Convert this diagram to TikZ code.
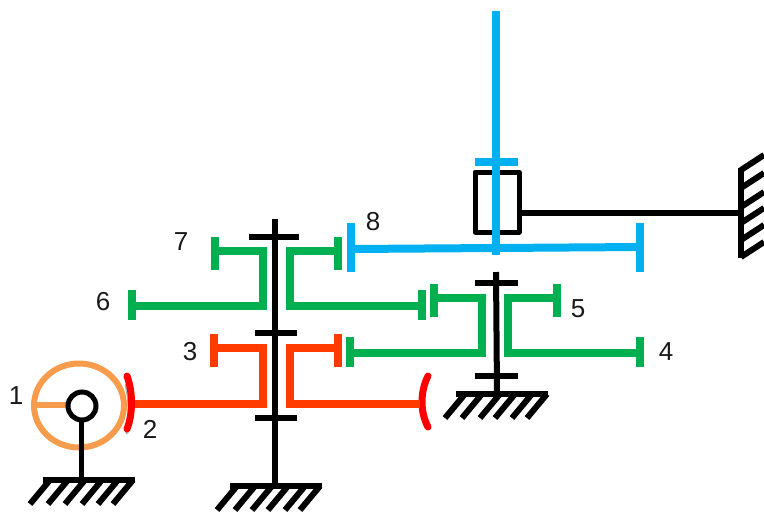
\documentclass[tikz,border=0pt]{standalone}
\usepackage{fontspec}
\setmainfont{Liberation Sans}
\definecolor{gOrange}{HTML}{F79B4D}
\definecolor{gRed}{HTML}{FF3B00}
\definecolor{gPure}{HTML}{FF0000}
\definecolor{gGreen}{HTML}{00B050}
\definecolor{gBlue}{HTML}{00B0F0}
\tikzset{
  px/.style={line width=#1*0.75pt},
  blk/.style={draw=black,px=6},
  thinblk/.style={draw=black,px=5},
  gearred/.style={draw=gRed,px=8},
  geargreen/.style={draw=gGreen,px=8},
  gearblue/.style={draw=gBlue,px=8},
  crescent/.style={draw=gPure,px=7,line cap=round},
  num/.style={font=\fontsize{19.5pt}{22pt}\selectfont,inner sep=0pt,text=black!90},
}
\newcommand{\groundhatch}[4]{% bar left, bar right, bar y, list of foot x
  \draw[blk] (#1,#3) -- (#2,#3);
  \foreach \fx in {#4} \draw[blk] (\fx,#3+24) -- (\fx+20,#3);
}
\begin{document}
\begin{tikzpicture}[x=0.75pt,y=-0.75pt]
\useasboundingbox (0,0) rectangle (764,512);

% ---- grounds and wall
\groundhatch{43}{135}{480}{30,48,65,82,98,113}
\groundhatch{230}{322}{486}{217,235,252,268,285,300}
\groundhatch{456}{548}{394}{445,462,480,495,512,527}
\draw[blk] (741,168) -- (741,258);
\foreach \wy/\wz in {170/155,188/173,207/192,223/208,240/225,257/242}
  \draw[blk] (741,\wy) -- (764,\wz);

% ---- worm 1
\draw[draw=gOrange,px=6] (79,405.5) ellipse[x radius=45,y radius=42];
\draw[draw=gOrange,px=6] (33,405) -- (68,405);
\draw[thinblk] (81,420) -- (81,478);
\node[circle,draw=black,fill=white,px=5,minimum size=28*0.75pt,inner sep=0pt] (hub) at (82,406) {};

% ---- worm wheel 2 (crescents with a faint shadow)
\draw[draw=gray!60,px=3,line cap=round] (126,385) .. controls (130,400) and (130,418) .. (127,433);
\draw[crescent] (127,376) .. controls (133,392) and (133,414) .. (127,429);
\draw[crescent] (428,376) .. controls (420,392) and (420,412) .. (428,427);

% ---- black shaft, left
\draw[blk] (275,219) -- (275,486);
\draw[blk] (249,237) -- (299,237);
\draw[blk] (255,333) -- (297,333);
\draw[blk] (255,418) -- (297,418);

% ---- red gears
\draw[gearred] (135,404) -- (267,404) -- (263,404) -- (263,348) -- (267,348);
\draw[gearred] (263,348) -- (214,348);
\draw[gearred] (214,334) -- (214,367);
\draw[gearred] (420,404) -- (290,404) -- (290,348) -- (338,348);
\draw[gearred] (338,334) -- (338,367);

% ---- green gears, left
\draw[geargreen] (215,251) -- (267,251) -- (263,251) -- (263,306);
\draw[geargreen] (132,306) -- (267,306);
\draw[geargreen] (215,237) -- (215,270);
\draw[geargreen] (132,290) -- (132,320);
\draw[geargreen] (338,251) -- (290,251) -- (290,306) -- (422,306);
\draw[geargreen] (338,237) -- (338,270);
\draw[geargreen] (422,290) -- (422,320);

% ---- black shaft, right
\draw[blk] (496,272) -- (497,392);
\draw[blk] (475,283) -- (518,283);
\draw[blk] (475,376) -- (518,376);

% ---- green gears, right
\draw[geargreen] (434,298) -- (486,298) -- (482,298) -- (482,353);
\draw[geargreen] (350,353) -- (486,353);
\draw[geargreen] (434,284) -- (434,317);
\draw[geargreen] (350,337) -- (350,367);
\draw[geargreen] (557,298) -- (508,298) -- (508,353) -- (640,353);
\draw[geargreen] (557,284) -- (557,317);
\draw[geargreen] (640,337) -- (640,367);

% ---- guide block and frame link
\draw[thinblk,line join=round] (475,172) rectangle (519,232);
\draw[blk] (519,213) -- (741,213);

% ---- blue member
\draw[gearblue] (351,249) -- (640,247);
\draw[gearblue] (496,11) -- (496,255);
\draw[gearblue] (475,162) -- (518,162);
\draw[gearblue] (351,223) -- (351,272);
\draw[gearblue] (640,223) -- (640,272);

% ---- labels
\node[num] (n1) at (16,396) {1};
\node[num] (n2) at (150,429) {2};
\node[num] (n3) at (190,352) {3};
\node[num] (n4) at (666,352) {4};
\node[num] (n5) at (578,309) {5};
\node[num] (n6) at (103,302) {6};
\node[num] (n7) at (181,242) {7};
\node[num] (n8) at (373,222) {8};
\end{tikzpicture}
\end{document}
